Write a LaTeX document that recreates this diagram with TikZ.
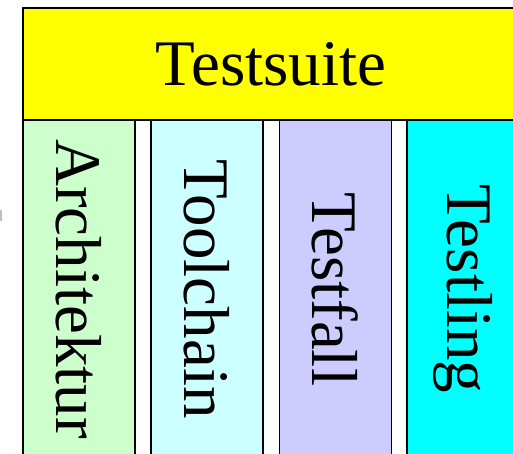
\documentclass[tikz,border=0pt]{standalone}
\usepackage{fontspec}
\setmainfont{Liberation Serif}
\definecolor{colA}{HTML}{CCFFCC}
\definecolor{colB}{HTML}{CCFFFF}
\definecolor{colC}{HTML}{CCCCFF}
\definecolor{colD}{HTML}{00FFFF}
\definecolor{colY}{HTML}{FFFF00}
\begin{document}
\begin{tikzpicture}[x=1pt,y=-1pt,
  box/.style={draw=black, line width=1.2pt, inner sep=0pt, outer sep=0pt},
  bigfont/.style={font=\fontsize{65}{72}\selectfont},
  column/.style={box, bigfont, rotate=-90, minimum width=338pt, minimum height=112pt}]
\useasboundingbox (0,0) rectangle (513,453);
\node[box, bigfont, fill=colY, minimum width=496pt, minimum height=112pt] (suite) at (271,64) {Testsuite};
\node[column, fill=colA] (arch) at (79,289) {Architektur};
\node[column, fill=colB] (tool) at (207,289) {Toolchain};
\node[column, fill=colC] (fall) at (335.5,289) {Testfall};
\node[column, fill=colD] (ling) at (463,289) {Testling};
\fill[gray!50] (0,210) rectangle (1.5,221);
\end{tikzpicture}
\end{document}
